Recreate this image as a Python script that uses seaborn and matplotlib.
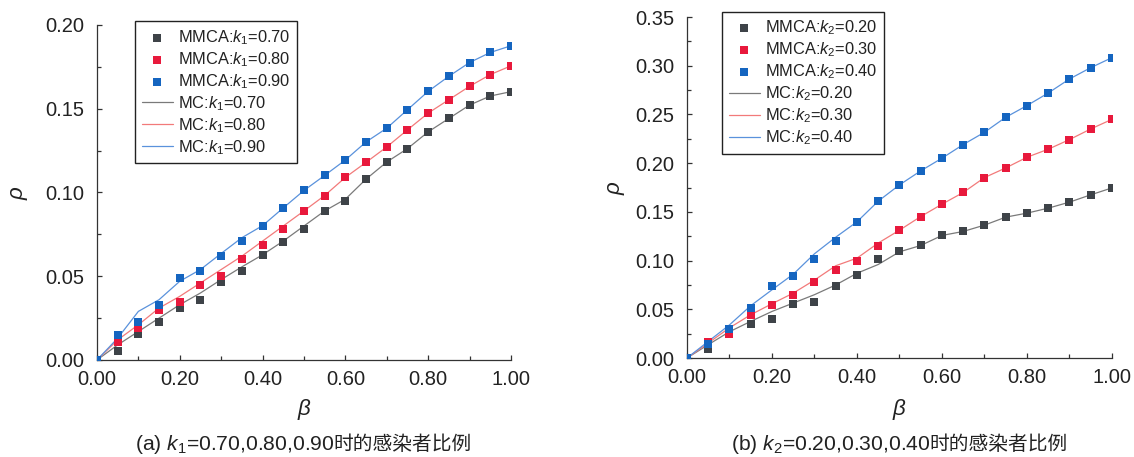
import numpy as np
import pandas as pd
import matplotlib
matplotlib.use("Agg")
import matplotlib.pyplot as plt
from matplotlib.ticker import MultipleLocator, FormatStrFormatter
import seaborn as sns

# ---------------- data ----------------
beta = [0.00, 0.05, 0.10, 0.15, 0.20, 0.25, 0.30, 0.35, 0.40, 0.45, 0.50,
        0.55, 0.60, 0.65, 0.70, 0.75, 0.80, 0.85, 0.90, 0.95, 1.00]

# panel (a): k1
mmca_k1_070 = [0.0, 0.0056, 0.0158, 0.0228, 0.0308, 0.0360, 0.0466, 0.0530, 0.0628, 0.0702, 0.0780,
               0.0890, 0.0950, 0.1080, 0.1182, 0.1262, 0.1362, 0.1442, 0.1522, 0.1576, 0.1602]
mmca_k1_080 = [0.0, 0.0106, 0.0190, 0.0296, 0.0346, 0.0448, 0.0500, 0.0600, 0.0686, 0.0782, 0.0890,
               0.0982, 0.1090, 0.1180, 0.1272, 0.1374, 0.1474, 0.1554, 0.1634, 0.1704, 0.1756]
mmca_k1_090 = [0.0, 0.0148, 0.0226, 0.0330, 0.0488, 0.0530, 0.0620, 0.0708, 0.0802, 0.0908, 0.1012,
               0.1102, 0.1194, 0.1302, 0.1384, 0.1494, 0.1604, 0.1694, 0.1776, 0.1836, 0.1876]
mc_k1_070 = [0.0, 0.0090, 0.0170, 0.0250, 0.0330, 0.0400, 0.0480, 0.0556, 0.0628, 0.0710, 0.0800,
             0.0890, 0.0960, 0.1080, 0.1182, 0.1262, 0.1362, 0.1442, 0.1522, 0.1576, 0.1602]
mc_k1_080 = [0.0, 0.0120, 0.0210, 0.0310, 0.0380, 0.0460, 0.0540, 0.0620, 0.0710, 0.0800, 0.0890,
             0.0982, 0.1090, 0.1180, 0.1272, 0.1374, 0.1474, 0.1554, 0.1634, 0.1704, 0.1756]
mc_k1_090 = [0.0, 0.0130, 0.0290, 0.0360, 0.0470, 0.0540, 0.0636, 0.0730, 0.0802, 0.0908, 0.1012,
             0.1102, 0.1194, 0.1302, 0.1384, 0.1494, 0.1604, 0.1694, 0.1776, 0.1836, 0.1876]

# panel (b): k2
mmca_k2_020 = [0.0, 0.0092, 0.0273, 0.0352, 0.0400, 0.0557, 0.0574, 0.0735, 0.0848, 0.1015, 0.1094,
               0.1155, 0.1258, 0.1299, 0.1364, 0.1446, 0.1487, 0.1538, 0.1600, 0.1675, 0.1746]
mmca_k2_030 = [0.0, 0.0164, 0.0246, 0.0437, 0.0547, 0.0649, 0.0779, 0.0899, 0.0998, 0.1145, 0.1312,
               0.1452, 0.1579, 0.1699, 0.1852, 0.1951, 0.2061, 0.2143, 0.2242, 0.2351, 0.2450]
mmca_k2_040 = [0.0, 0.0147, 0.0301, 0.0509, 0.0735, 0.0837, 0.1018, 0.1200, 0.1398, 0.1610, 0.1777,
               0.1921, 0.2051, 0.2191, 0.2317, 0.2471, 0.2591, 0.2720, 0.2864, 0.2980, 0.3083]
mc_k2_020 = [0.0, 0.0137, 0.0270, 0.0376, 0.0478, 0.0564, 0.0650, 0.0750, 0.0870, 0.0960, 0.1090,
             0.1155, 0.1258, 0.1299, 0.1364, 0.1446, 0.1487, 0.1538, 0.1600, 0.1675, 0.1746]
mc_k2_030 = [0.0, 0.0154, 0.0310, 0.0444, 0.0557, 0.0666, 0.0800, 0.0947, 0.1025, 0.1180, 0.1312,
             0.1452, 0.1579, 0.1699, 0.1852, 0.1951, 0.2061, 0.2143, 0.2242, 0.2351, 0.2450]
mc_k2_040 = [0.0, 0.0170, 0.0340, 0.0537, 0.0700, 0.0860, 0.1070, 0.1240, 0.1398, 0.1610, 0.1777,
             0.1921, 0.2051, 0.2191, 0.2317, 0.2471, 0.2591, 0.2720, 0.2864, 0.2980, 0.3083]

k1_labels = ["0.70", "0.80", "0.90"]
k2_labels = ["0.20", "0.30", "0.40"]
caption_a_latin = "(a) $\\mathit{k}_{1}$=0.70,0.80,0.90"
caption_b_latin = "(b) $\\mathit{k}_{2}$=0.20,0.30,0.40"
caption_cjk = "时的感染者比例"

# ---------------- style ----------------
sns.set_theme(style="ticks")
plt.rcParams['font.family'] = ['Liberation Sans', 'Noto Sans CJK SC', 'DejaVu Sans']
plt.rcParams['mathtext.fontset'] = 'custom'
plt.rcParams['mathtext.rm'] = 'Liberation Sans'
plt.rcParams['mathtext.it'] = 'Liberation Sans:italic'
plt.rcParams['mathtext.bf'] = 'Liberation Sans:bold'

marker_colors = ["#3e4348", "#e8193c", "#1565c0"]
line_colors = ["#7a7a7a", "#f27a7a", "#5a92dc"]
text_color = "#222222"

fig = plt.figure(figsize=(11.34, 4.57), dpi=100)
ax1 = fig.add_axes([0.0855, 0.2123, 0.3651, 0.7330])
ax2 = fig.add_axes([0.6058, 0.2166, 0.3748, 0.7462])


def draw(ax, mmca, mc, sub, labels, ymax, ymajor, leg_anchor, xlab_y, ylab_x):
    for i in range(3):
        sns.scatterplot(x=beta, y=mmca[i], ax=ax, color=marker_colors[i], marker='s',
                        s=30, linewidth=0, zorder=3, clip_on=True,
                        label=f"MMCA:$\\mathit{{k}}_{{{sub}}}$={labels[i]}")
    for i in range(3):
        sns.lineplot(x=beta, y=mc[i], ax=ax, color=line_colors[i], linewidth=0.9,
                     zorder=2, label=f"MC:$\\mathit{{k}}_{{{sub}}}$={labels[i]}")
    ax.set_xlim(0, 1.0)
    ax.set_ylim(0, ymax)
    ax.xaxis.set_major_locator(MultipleLocator(0.2))
    ax.xaxis.set_minor_locator(MultipleLocator(0.1))
    ax.yaxis.set_major_locator(MultipleLocator(ymajor))
    ax.yaxis.set_minor_locator(MultipleLocator(ymajor / 2))
    ax.xaxis.set_major_formatter(FormatStrFormatter('%.2f'))
    ax.yaxis.set_major_formatter(FormatStrFormatter('%.2f'))
    ax.tick_params(which='both', direction='in', color='#333333', width=0.9)
    ax.tick_params(which='major', length=3.5, labelsize=14.5, labelcolor=text_color)
    ax.tick_params(axis='y', which='major', pad=9)
    ax.tick_params(axis='x', which='major', pad=7)
    ax.tick_params(which='minor', length=3)
    for s in ['top', 'right']:
        ax.spines[s].set_visible(False)
    for s in ['left', 'bottom']:
        ax.spines[s].set_linewidth(0.9)
        ax.spines[s].set_color('#333333')
    ax.set_xlabel("$\\mathit{\\beta}$", fontsize=16, color=text_color)
    ax.set_ylabel("$\\mathit{\\rho}$", fontsize=16, color=text_color)
    ax.xaxis.set_label_coords(0.5, xlab_y)
    ax.xaxis.label.set_va('center')
    ax.yaxis.set_label_coords(ylab_x, 0.5)
    ax.yaxis.label.set_va('center')
    h, l = ax.get_legend_handles_labels()
    leg = ax.legend(h, l, loc='upper left', fontsize=11.8, frameon=True, fancybox=False,
                    edgecolor='#222222', framealpha=1, handlelength=1.9, handletextpad=0.3,
                    labelspacing=0.2, borderpad=0.4, scatterpoints=1,
                    bbox_to_anchor=leg_anchor)
    leg.get_frame().set_linewidth(1.0)
    for t in leg.get_texts():
        t.set_color(text_color)


draw(ax1, [mmca_k1_070, mmca_k1_080, mmca_k1_090], [mc_k1_070, mc_k1_080, mc_k1_090],
     1, k1_labels, 0.20, 0.05, (0.072, 1.035), -0.149, -0.186)
draw(ax2, [mmca_k2_020, mmca_k2_030, mmca_k2_040], [mc_k2_020, mc_k2_030, mc_k2_040],
     2, k2_labels, 0.35, 0.05, (0.064, 1.038), -0.152, -0.165)

# captions: Latin/mathtext part and CJK part placed side by side, centred under each axes
renderer = fig.canvas.get_renderer()
fig_w = fig.get_figwidth() * fig.dpi


def caption(ax, latin, cjk, y):
    t1 = fig.text(0, y, latin, fontsize=15.2, va='baseline', ha='left', color=text_color)
    t2 = fig.text(0, y, cjk, fontsize=14.2, va='baseline', ha='left', color=text_color,
                  family=['Noto Sans CJK SC', 'DejaVu Sans'])
    w1 = t1.get_window_extent(renderer).width
    w2 = t2.get_window_extent(renderer).width
    bb = ax.get_position()
    cx = (bb.x0 + bb.x1) / 2 * fig_w
    x0 = cx - (w1 + w2) / 2
    t1.set_x(x0 / fig_w)
    t2.set_x((x0 + w1 - 1) / fig_w)


caption(ax1, caption_a_latin, caption_cjk, 0.016)
caption(ax2, caption_b_latin, caption_cjk, 0.016)

fig.savefig("out.png", dpi=100)
